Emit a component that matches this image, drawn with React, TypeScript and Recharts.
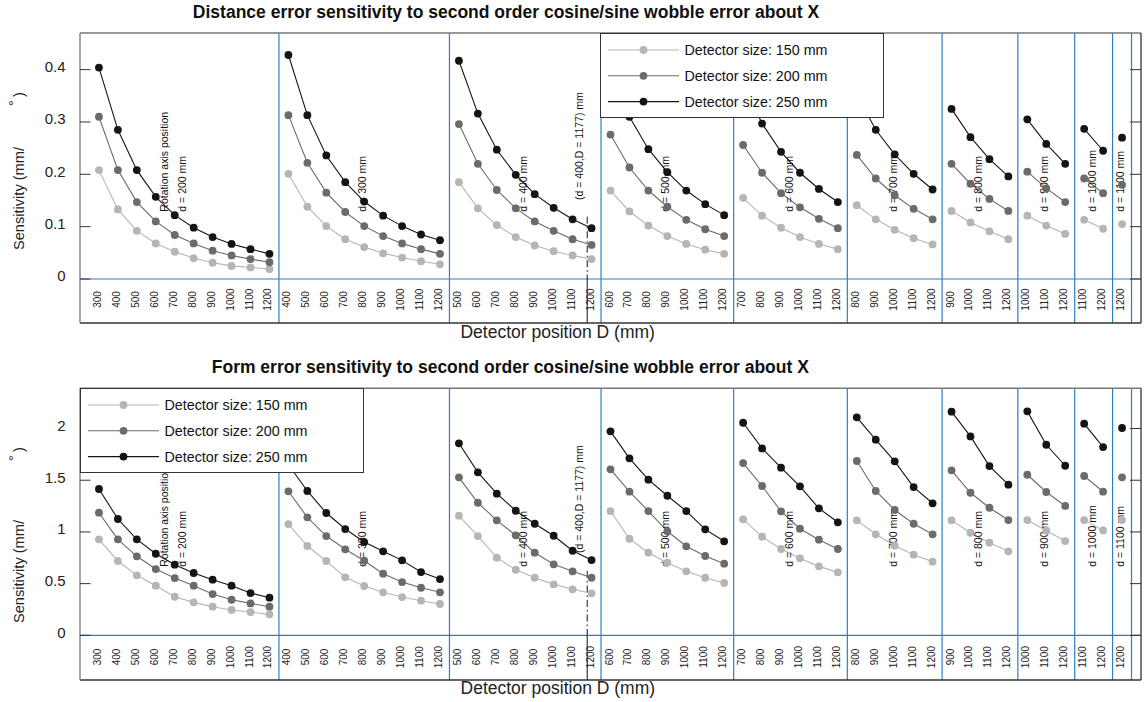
import React from 'react';
import { ComposedChart, Line, XAxis, YAxis, ReferenceLine, ReferenceDot, Legend } from 'recharts';

// Category structure: detector positions D for each rotation axis position d (D > d)
const detectorPositions = [300, 400, 500, 600, 700, 800, 900, 1000, 1100, 1200];
const rotationAxisPositions = [200, 300, 400, 500, 600, 700, 800, 900, 1000, 1100];
const detectorSizes = [150, 200, 250];
const seriesColors = ['#b5b5b5', '#6b6b6b', '#141414'];

// Marked configuration (d = 400, D = 1177)
const markedAxis = 400;
const markedDetector = 1177;

// Distance error sensitivity (mm/°), one list per rotation axis position
const distance150 = [
  [0.208, 0.133, 0.092, 0.068, 0.052, 0.040, 0.031, 0.025, 0.022, 0.019],
  [0.201, 0.138, 0.101, 0.076, 0.061, 0.049, 0.041, 0.034, 0.028],
  [0.185, 0.135, 0.103, 0.080, 0.064, 0.053, 0.045, 0.038],
  [0.169, 0.129, 0.102, 0.082, 0.067, 0.056, 0.048],
  [0.155, 0.121, 0.098, 0.080, 0.067, 0.057],
  [0.141, 0.114, 0.094, 0.078, 0.066],
  [0.130, 0.108, 0.091, 0.076],
  [0.121, 0.102, 0.086],
  [0.113, 0.096],
  [0.105],
];
const distance200 = [
  [0.310, 0.208, 0.147, 0.110, 0.084, 0.068, 0.054, 0.045, 0.038, 0.032],
  [0.313, 0.222, 0.165, 0.128, 0.101, 0.082, 0.068, 0.057, 0.048],
  [0.296, 0.220, 0.170, 0.135, 0.110, 0.092, 0.076, 0.065],
  [0.276, 0.213, 0.169, 0.138, 0.113, 0.095, 0.082],
  [0.256, 0.203, 0.164, 0.137, 0.115, 0.097],
  [0.237, 0.192, 0.160, 0.134, 0.114],
  [0.220, 0.182, 0.153, 0.130],
  [0.205, 0.173, 0.147],
  [0.192, 0.164],
  [0.180],
];
const distance250 = [
  [0.404, 0.285, 0.208, 0.157, 0.122, 0.098, 0.080, 0.067, 0.057, 0.048],
  [0.428, 0.313, 0.236, 0.185, 0.148, 0.121, 0.101, 0.085, 0.074],
  [0.417, 0.316, 0.247, 0.199, 0.162, 0.136, 0.114, 0.097],
  [0.400, 0.310, 0.248, 0.204, 0.169, 0.143, 0.122],
  [0.374, 0.297, 0.243, 0.203, 0.172, 0.147],
  [0.352, 0.285, 0.238, 0.201, 0.171],
  [0.325, 0.271, 0.229, 0.196],
  [0.305, 0.258, 0.220],
  [0.287, 0.245],
  [0.270],
];

// Form error sensitivity (mm/°)
const form150 = [
  [0.928, 0.719, 0.580, 0.480, 0.373, 0.319, 0.277, 0.245, 0.225, 0.203],
  [1.076, 0.864, 0.719, 0.561, 0.477, 0.416, 0.370, 0.335, 0.303],
  [1.157, 0.960, 0.751, 0.634, 0.557, 0.493, 0.445, 0.406],
  [1.202, 0.934, 0.799, 0.702, 0.619, 0.557, 0.506],
  [1.122, 0.954, 0.835, 0.745, 0.667, 0.609],
  [1.112, 0.977, 0.867, 0.780, 0.712],
  [1.112, 0.992, 0.896, 0.812],
  [1.115, 1.012, 0.912],
  [1.115, 1.015],
  [1.115],
];
const form200 = [
  [1.186, 0.928, 0.764, 0.641, 0.554, 0.480, 0.399, 0.344, 0.309, 0.277],
  [1.393, 1.141, 0.960, 0.832, 0.722, 0.596, 0.515, 0.460, 0.416],
  [1.528, 1.282, 1.112, 0.967, 0.799, 0.687, 0.619, 0.557],
  [1.605, 1.389, 1.202, 1.006, 0.861, 0.767, 0.693],
  [1.666, 1.444, 1.199, 1.031, 0.925, 0.835],
  [1.686, 1.396, 1.212, 1.079, 0.977],
  [1.596, 1.379, 1.234, 1.115],
  [1.553, 1.386, 1.251],
  [1.541, 1.389],
  [1.528],
];
const form250 = [
  [1.415, 1.125, 0.928, 0.789, 0.683, 0.603, 0.538, 0.480, 0.409, 0.364],
  [1.650, 1.396, 1.183, 1.028, 0.902, 0.812, 0.725, 0.612, 0.544],
  [1.857, 1.576, 1.370, 1.205, 1.079, 0.963, 0.818, 0.728],
  [1.973, 1.712, 1.505, 1.350, 1.202, 1.025, 0.909],
  [2.056, 1.808, 1.621, 1.441, 1.228, 1.093],
  [2.108, 1.892, 1.683, 1.434, 1.277],
  [2.163, 1.924, 1.637, 1.457],
  [2.166, 1.843, 1.640],
  [2.047, 1.821],
  [2.005],
];

const distanceTicks = [0, 0.1, 0.2, 0.3, 0.4];
const formTicks = [0, 0.5, 1, 1.5, 2];

// ---- derived category layout ----
const groups = rotationAxisPositions.map((d) => detectorPositions.filter((D) => D > d));
const groupStarts: number[] = [];
{
  let s = 1;
  groups.forEach((g) => {
    groupStarts.push(s);
    s += g.length;
  });
}
const categoryLabels = groups.flat();
const categoryTicks = categoryLabels.map((_, i) => i + 1);
const separators = groups.map((g, i) => groupStarts[i] + g.length - 0.5);
const groupCenters = groups.map((g, i) => groupStarts[i] + (g.length - 1) / 2);
const markedGroup = rotationAxisPositions.indexOf(markedAxis);
const markedX = groupStarts[markedGroup] + (markedDetector - groups[markedGroup][0]) / 100;
const X_DOMAIN: [number, number] = [0, categoryLabels.length + 1];

type Row = { x: number; v: number | null };
function buildRows(values: number[][]): Row[] {
  const rows: Row[] = [];
  values.forEach((vals, g) => {
    if (g > 0) rows.push({ x: groupStarts[g] - 0.5, v: null });
    vals.forEach((v, i) => rows.push({ x: groupStarts[g] + i, v }));
  });
  return rows;
}

const FONT = '"Liberation Sans", Arial, Helvetica, sans-serif';
const BLUE = '#2a7fc9';
const PLOT_LEFT = 80;
const PLOT_RIGHT = 1141;

function LegendBox() {
  return (
    <div
      style={{
        width: 284,
        height: 85,
        border: '1px solid #333',
        background: '#fff',
        boxSizing: 'border-box',
        fontFamily: FONT,
      }}
    >
      <svg width={282} height={83} style={{ display: 'block' }}>
        {detectorSizes.map((s, i) => {
          const y = 16 + i * 25.8;
          return (
            <g key={s}>
              <line x1={7} x2={78} y1={y} y2={y} stroke={seriesColors[i]} strokeWidth={1.1} />
              <circle cx={42.5} cy={y} r={3.9} fill={seriesColors[i]} />
              <text x={83.5} y={y} dominantBaseline="central" fontSize={14.3} fill="#111">
                {`Detector size: ${s} mm`}
              </text>
            </g>
          );
        })}
      </svg>
    </div>
  );
}

type PanelProps = {
  height: number;
  plotTop: number;
  plotBottom: number;
  domain: [number, number];
  ticks: number[];
  series: number[][][];
  labelValue: number;
  markerTop: number;
  markerLabelValue: number;
  tickLabelY: number;
  legendTop: number;
  legendLeft: number;
};

function Panel(p: PanelProps) {
  const leftTick = (props: any) => {
    const { y, payload } = props;
    return (
      <g>
        <line x1={PLOT_LEFT} x2={PLOT_LEFT + 10.5} y1={y} y2={y} stroke="#333" strokeWidth={1} />
        <text x={65.5} y={y - 3} textAnchor="end" dominantBaseline="central" fontSize={15} fill="#222" fontFamily={FONT}>
          {String(payload.value)}
        </text>
      </g>
    );
  };
  const rightTick = (props: any) => {
    const { y } = props;
    return <line x1={PLOT_RIGHT - 11} x2={PLOT_RIGHT} y1={y} y2={y} stroke="#333" strokeWidth={1} />;
  };
  const xTick = (props: any) => {
    const { x, payload } = props;
    const label = categoryLabels[Math.round(payload.value) - 1];
    if (label === undefined) return <g />;
    return (
      <text
        transform={`translate(${x + 2},${p.tickLabelY}) rotate(-90)`}
        textAnchor="middle"
        fontSize={10}
        fill="#222"
        fontFamily={FONT}
      >
        {label}
      </text>
    );
  };
  const rotatedText = (text: string, dx: number) => (props: any) => (
    <text
      transform={`translate(${props.cx + dx},${props.cy}) rotate(-90)`}
      textAnchor="start"
      fontSize={10.5}
      fill="#111"
      fontFamily={FONT}
    >
      {text}
    </text>
  );

  // axes take 1px each; margins chosen so the plot box spans plotTop..plotBottom
  const margin = { top: p.plotTop - 1, right: 1144 - PLOT_RIGHT - 1, bottom: p.height - p.plotBottom - 1, left: 0 };

  return (
    <ComposedChart width={1144} height={p.height} margin={margin}>
      <XAxis
        dataKey="x"
        type="number"
        domain={X_DOMAIN}
        allowDataOverflow
        ticks={categoryTicks}
        interval={0}
        height={1}
        tickLine={false}
        tick={xTick}
        axisLine={{ stroke: '#333', strokeWidth: 1.3 }}
      />
      <XAxis
        xAxisId="top"
        orientation="top"
        dataKey="x"
        type="number"
        domain={X_DOMAIN}
        allowDataOverflow
        height={1}
        tick={false}
        tickLine={false}
        axisLine={{ stroke: '#777', strokeWidth: 1.5 }}
      />
      <YAxis
        type="number"
        domain={p.domain}
        allowDataOverflow
        ticks={p.ticks}
        interval={0}
        width={80}
        tickLine={false}
        tick={leftTick}
        axisLine={{ stroke: '#777', strokeWidth: 1.3 }}
      />
      <YAxis
        yAxisId="r"
        orientation="right"
        type="number"
        domain={p.domain}
        allowDataOverflow
        ticks={p.ticks}
        interval={0}
        width={1}
        tickLine={false}
        tick={rightTick}
        axisLine={{ stroke: '#333', strokeWidth: 1.3 }}
      />
      {separators.map((s) => (
        <ReferenceLine key={s} x={s} stroke={BLUE} strokeWidth={1.2} ifOverflow="visible" />
      ))}
      <ReferenceLine y={0} stroke={BLUE} strokeWidth={1.2} />
      <ReferenceLine
        segment={[
          { x: markedX, y: p.markerTop },
          { x: markedX, y: 0 },
        ]}
        stroke="#111"
        strokeWidth={1}
        strokeDasharray="7 3 1.5 3"
        ifOverflow="visible"
      />
      <ReferenceLine
        segment={[
          { x: markedX, y: 0 },
          { x: markedX, y: p.domain[0] },
        ]}
        stroke="#111"
        strokeWidth={1}
        ifOverflow="visible"
      />
      <ReferenceDot
        x={markedX}
        y={p.markerLabelValue}
        r={1}
        ifOverflow="visible"
        shape={rotatedText(`(d = ${markedAxis},D = ${markedDetector}) mm`, -3.7)}
      />
      <ReferenceDot
        x={groupCenters[0]}
        y={p.labelValue}
        r={1}
        ifOverflow="visible"
        shape={rotatedText('Rotation axis position', -16.5)}
      />
      {rotationAxisPositions.map((d, i) => (
        <ReferenceDot
          key={d}
          x={groupCenters[i]}
          y={p.labelValue}
          r={1}
          ifOverflow="visible"
          shape={rotatedText(`d = ${d} mm`, 2.1)}
        />
      ))}
      {p.series.map((vals, i) => (
        <Line
          key={detectorSizes[i]}
          data={buildRows(vals)}
          dataKey="v"
          name={`Detector size: ${detectorSizes[i]} mm`}
          type="linear"
          stroke={seriesColors[i]}
          strokeWidth={1.1}
          dot={{ r: 3.9, fill: seriesColors[i], stroke: seriesColors[i], strokeWidth: 0 }}
          activeDot={false}
          isAnimationActive={false}
        />
      ))}
      <Legend
        layout="vertical"
        align="center"
        verticalAlign="middle"
        wrapperStyle={{ left: p.legendLeft, top: p.legendTop, width: 284, height: 85 }}
        content={() => <LegendBox />}
      />
    </ComposedChart>
  );
}

function YLabel({ endY, parenY, degreeY }: { endY: number; parenY: number; degreeY: number }) {
  return (
    <g fontFamily={FONT} fontSize={14.6} fill="#222">
      <text transform={`translate(23.5,${endY}) rotate(-90)`} textAnchor="end">
        Sensitivity (mm/
      </text>
      <text transform={`translate(18.5,${degreeY}) rotate(-90)`} textAnchor="middle">
        °
      </text>
      <text transform={`translate(23.5,${parenY}) rotate(-90)`} textAnchor="start">
        )
      </text>
    </g>
  );
}

export default function App() {
  return (
    <div
      style={{
        position: 'absolute',
        left: 0,
        top: 0,
        width: 1144,
        height: 702,
        background: '#fff',
        fontFamily: FONT,
        overflow: 'hidden',
      }}
    >
      <div style={{ position: 'absolute', left: 0, top: 0 }}>
        <Panel
          height={340}
          plotTop={33}
          plotBottom={323}
          domain={[-0.0841, 0.47]}
          ticks={distanceTicks}
          series={[distance150, distance200, distance250]}
          labelValue={0.1286}
          markerTop={0.119}
          markerLabelValue={0.151}
          tickLabelY={299.5}
          legendLeft={600}
          legendTop={33}
        />
      </div>
      <div style={{ position: 'absolute', left: 0, top: 340 }}>
        <Panel
          height={362}
          plotTop={48.3}
          plotBottom={340}
          domain={[-0.432, 2.389]}
          ticks={formTicks}
          series={[form150, form200, form250]}
          labelValue={0.663}
          markerTop={0.622}
          markerLabelValue={0.796}
          tickLabelY={317}
          legendLeft={80}
          legendTop={48.3}
        />
      </div>
      <svg
        width={1144}
        height={702}
        style={{ position: 'absolute', left: 0, top: 0, pointerEvents: 'none' }}
      >
        <text x={506} y={18.3} textAnchor="middle" fontFamily={FONT} fontWeight="bold" fontSize={17.5} fill="#111">
          Distance error sensitivity to second order cosine/sine wobble error about X
        </text>
        <text x={510.3} y={373.3} textAnchor="middle" fontFamily={FONT} fontWeight="bold" fontSize={17.5} fill="#111">
          Form error sensitivity to second order cosine/sine wobble error about X
        </text>
        <text x={557.7} y={338} textAnchor="middle" fontFamily={FONT} fontSize={17.5} fill="#222">
          Detector position D (mm)
        </text>
        <text x={557.8} y={694} textAnchor="middle" fontFamily={FONT} fontSize={17.5} fill="#222">
          Detector position D (mm)
        </text>
        <YLabel endY={147} parenY={97} degreeY={103} />
        <YLabel endY={520} parenY={452} degreeY={458} />
      </svg>
    </div>
  );
}
